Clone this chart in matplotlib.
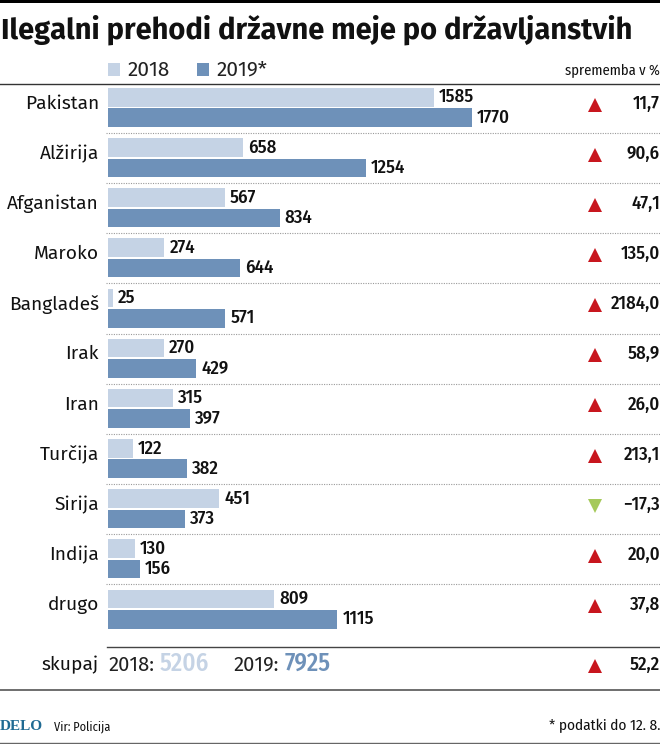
import matplotlib
matplotlib.use("Agg")
import matplotlib.pyplot as plt
from matplotlib.patches import Rectangle
from matplotlib import font_manager as fm

countries = ["Pakistan", "Alžirija", "Afganistan", "Maroko", "Bangladeš", "Irak", "Iran", "Turčija", "Sirija", "Indija", "drugo"]
v2018 = [1585, 658, 567, 274, 25, 270, 315, 122, 451, 130, 809]
v2019 = [1770, 1254, 834, 644, 571, 429, 397, 382, 373, 156, 1115]
# lengths of the 2018 bars as drawn in the picture: the Sirija bar is longer than its printed 451
bars2018 = [1585, 658, 567, 274, 25, 270, 315, 122, 540, 130, 809]
changes = ["11,7", "90,6", "47,1", "135,0", "2184,0", "58,9", "26,0", "213,1", "−17,3", "20,0", "37,8"]
directions = [1, 1, 1, 1, 1, 1, 1, 1, -1, 1, 1]
total_2018 = "5206"
total_2019 = "7925"
total_change = "52,2"

C18 = "#c5d3e5"
C19 = "#6e91b9"
RED = "#c8161e"
GREEN = "#a5c95a"
names = {f.name for f in fm.fontManager.ttflist}
def pick(*opts):
    for o in opts:
        if o in names:
            return o
    return "DejaVu Sans"
NARROW = pick("Fira Sans Condensed", "Roboto Condensed", "Barlow Condensed", "Archivo Narrow", "Roboto")
SANS = pick("Fira Sans", "Lato")
TITLE = pick("Fira Sans", "Open Sans")

W, H = 660, 744
fig = plt.figure(figsize=(W / 100, H / 100), dpi=100, facecolor="white")

bg = fig.add_axes([0, 0, 1, 1])
bg.set_xlim(0, W)
bg.set_ylim(H, 0)
bg.axis("off")

PX_PER_UNIT = 364 / 1770
PITCH = 50.15
top, bottom = 82.5, 640.0
ax = fig.add_axes([108 / W, 1 - bottom / H, (W - 108) / W, (bottom - top) / H])
ax.set_xlim(0, (W - 108) / PX_PER_UNIT)
ax.set_ylim((bottom - 107.5) / PITCH, (top - 107.5) / PITCH)
ax.axis("off")
ax.patch.set_alpha(0)
ys = list(range(len(countries)))
off = 10.2 / PITCH
hgt = 18.6 / PITCH
ax.barh([y - off for y in ys], bars2018, height=hgt, color=C18, linewidth=0)
ax.barh([y + off for y in ys], v2019, height=hgt, color=C19, linewidth=0)
for y, a, la, b in zip(ys, bars2018, v2018, v2019):
    ax.annotate(str(la), (a, y - off), xytext=(3.6, 0), textcoords="offset points", va="center", ha="left",
                fontsize=13.5, fontweight="medium", family=NARROW, color="#111111")
    ax.annotate(str(b), (b, y + off), xytext=(3.6, 0), textcoords="offset points", va="center", ha="left",
                fontsize=13.5, fontweight="medium", family=NARROW, color="#111111")

for i, (c, ch, d) in enumerate(zip(countries, changes, directions)):
    yc = 107.5 + i * PITCH
    bg.text(99, yc - 4, c, ha="right", va="center", fontsize=13.8, family=SANS, color="#111111")
    bg.plot([595], [yc - 3], marker="^" if d > 0 else "v", ms=10.5, color=RED if d > 0 else GREEN, mew=0)
    bg.text(660, yc - 4, ch, ha="right", va="center", fontsize=13.5, fontweight="medium", family=NARROW, color="#111111")
    if i < len(countries) - 1:
        bg.plot([106, 660], [yc + 25.5] * 2, color="#9a9a9a", lw=0.8, ls=(0, (1, 1.2)))

bg.add_patch(Rectangle((0, 0), W, 3, color="black", lw=0))
bg.text(1, 30, "Ilegalni prehodi državne meje po državljanstvih", ha="left", va="center",
        fontsize=21.0, fontweight="bold", family=TITLE, color="#111111")

bg.add_patch(Rectangle((108, 63), 12, 13, color=C18, lw=0))
bg.text(128, 70, "2018", ha="left", va="center", fontsize=15, family=SANS, color="#222222")
bg.add_patch(Rectangle((197, 63), 12, 13, color=C19, lw=0))
bg.text(217, 70, "2019*", ha="left", va="center", fontsize=15, family=SANS, color="#222222")
bg.text(660, 71, "sprememba v %", ha="right", va="center", fontsize=10.5, family=NARROW, color="#111111")

bg.plot([0, W], [84, 84], color="#333333", lw=1)
bg.plot([107, W], [647, 647], color="#444444", lw=1)
bg.plot([0, W], [690, 690], color="#555555", lw=1.2)
bg.plot([0, W], [743, 743], color="#666666", lw=1)

bg.text(99, 665, "skupaj", ha="right", va="center", fontsize=13.8, family=SANS, color="#111111")
bg.text(108, 665, "2018:", ha="left", va="center", fontsize=14.5, family=SANS, color="#222222")
bg.text(160, 664, total_2018, ha="left", va="center", fontsize=18, fontweight="medium", family=NARROW, color=C18)
bg.text(233, 665, "2019:", ha="left", va="center", fontsize=14.5, family=SANS, color="#222222")
bg.text(285, 664, total_2019, ha="left", va="center", fontsize=18, fontweight="medium", family=NARROW, color=C19)
bg.plot([595], [666], marker="^", ms=10.5, color=RED, mew=0)
bg.text(660, 665, total_change, ha="right", va="center", fontsize=13.5, fontweight="medium", family=NARROW, color="#111111")

bg.text(0, 727, "DELO", ha="left", va="center", fontsize=11, fontweight="bold", family="Liberation Serif", color="#1f6a93")
bg.text(54, 727, "Vir: Policija", ha="left", va="center", fontsize=8.8, family=NARROW, color="#111111")
bg.text(660, 726, "* podatki do 12. 8.", ha="right", va="center", fontsize=11, family=NARROW, color="#111111")

fig.savefig("out.png", dpi=100)
